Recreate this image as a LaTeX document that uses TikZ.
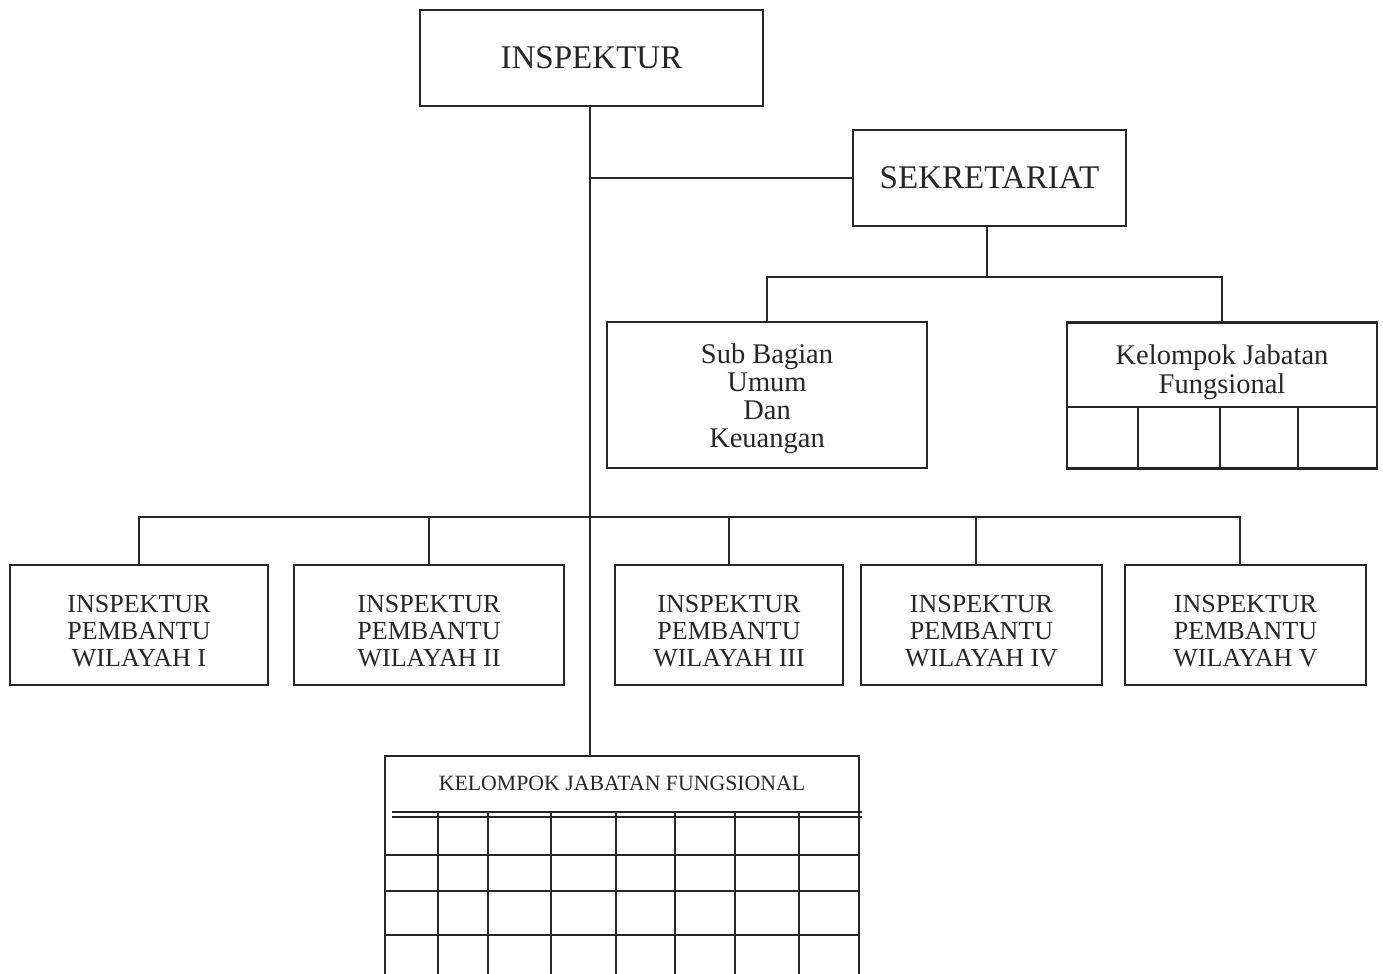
\documentclass[tikz,border=0pt]{standalone}
\usepackage{fontspec}
\setmainfont{Liberation Serif}
\usetikzlibrary{positioning}

\begin{document}
\begin{tikzpicture}[x=0.01cm, y=-0.01cm, line width=0.6pt, draw=black!85,
      box/.style={draw, align=center, inner sep=0pt, text=black!85},
      head/.style={box, font=\fontsize{9.4}{11}\selectfont},
      unit/.style={box, minimum height=1.46cm},
      wil/.style={box, minimum height=1.20cm},
      txt/.style={align=center, inner sep=0pt, text=black!85},
      unittxt/.style={txt, font=\fontsize{8.1}{8}\selectfont},
      wiltxt/.style={txt, font=\fontsize{7.4}{7.7}\selectfont}]
    \useasboundingbox (0,0) rectangle (1383,974);
    % top level
    \node[head, minimum width=3.43cm, minimum height=0.96cm] (insp) at (591.5,58) {INSPEKTUR};
    \node[head, minimum width=2.73cm, minimum height=0.96cm] (sek) at (989.5,178) {SEKRETARIAT};
    % under sekretariat
    \node[unit, minimum width=3.20cm] (sub) at (767,395) {};
    \node[unittxt] (subt) at (767,399) {Sub Bagian\\Umum\\Dan\\Keuangan};
    \node[unit, minimum width=3.10cm] (kjfa) at (1222,395.5) {};
    \node[unittxt, font=\fontsize{8.1}{8.2}\selectfont] (kjfat) at (1222,372) {Kelompok Jabatan\\Fungsional};
    \draw (kjfa.west |- 0,407) -- (kjfa.east |- 0,407);
    \foreach \x in {1138,1220,1298}
      \draw (\x,407) -- (kjfa.south -| \x,0);
    % inspektur pembantu
    \foreach \n/\x/\w/\r in {w1/139/2.58/I, w2/429/2.70/II, w3/729/2.28/III,
                             w4/981.5/2.41/IV, w5/1245.5/2.41/V} {
      \node[wil, minimum width=\w cm] (\n) at (\x,625) {};
      \node[wiltxt] (\n t) at (\x,631) {INSPEKTUR\\PEMBANTU\\WILAYAH \r};
    }
    % kelompok jabatan fungsional (bottom)
    \node[inner sep=0pt, minimum width=4.72cm, minimum height=2.17cm] (kjfb) at (622,865.5) {};
    \node[txt, font=\fontsize{6.2}{7}\selectfont] (kjfbt) at (622,783) {KELOMPOK JABATAN FUNGSIONAL};
    \draw (kjfb.south west) -- (kjfb.north west) -- (kjfb.north east) -- (kjfb.south east);
    \draw (392,812) -- (862,812) (392,817) -- (862,817);
    \foreach \y in {855,891,935}
      \draw (kjfb.west |- 0,\y) -- (kjfb.east |- 0,\y);
    \foreach \x in {438,488,551,616,675,735,799}
      \draw (\x,812) -- (kjfb.south -| \x,0);
    % connectors
    \coordinate (bus) at (590,517);
    \draw (insp.south -| bus) -- (kjfb.north -| bus);
    \draw (sek.west -| bus) -- (sek.west);
    \draw ([xshift=-0.025cm]sek.south) -- ++(0,50) -| (sub.north);
    \draw ([xshift=-0.025cm]sek.south) -- ++(0,50) -| (kjfa.north);
    \draw (w1.north) |- (bus) -| ([xshift=-0.055cm]w5.north);
    \draw (w2.north) -- (w2.north |- bus);
    \draw (w3.north) -- (w3.north |- bus);
    \draw ([xshift=-0.055cm]w4.north) -- ([xshift=-0.055cm]w4.north |- bus);
  \end{tikzpicture}
\end{document}
